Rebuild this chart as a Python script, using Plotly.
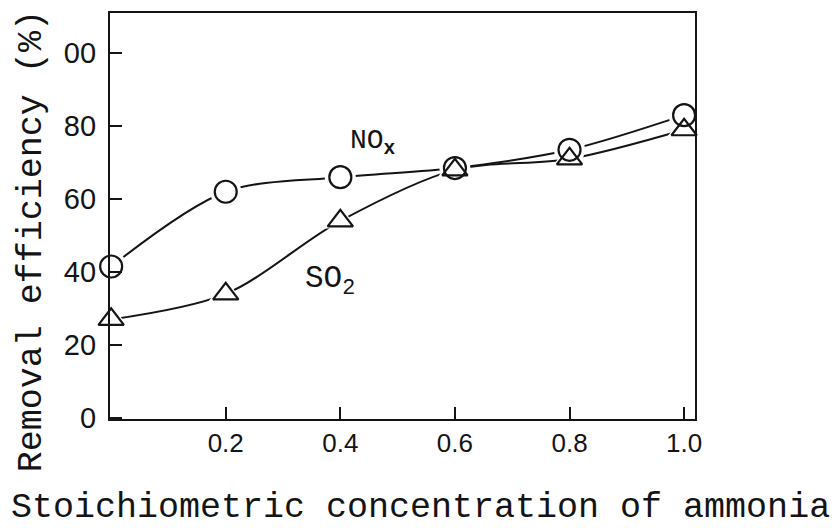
import plotly.graph_objects as go

# Stoichiometric concentration of ammonia (x) vs. removal efficiency (%)
conc = [0.0, 0.2, 0.4, 0.6, 0.8, 1.0]
nox_eff = [41.5, 62, 66, 68.5, 73.5, 83]
so2_eff = [27, 34, 54, 68, 71, 79]

y_tick_vals = [0, 20, 40, 60, 80, 100]
y_tick_text = ["0", "20", "40", "60", "80", "00"]
x_tick_vals = [0.2, 0.4, 0.6, 0.8, 1.0]
x_tick_text = ["0.2", "0.4", "0.6", "0.8", "1.0"]

INK = "#141414"
MONO = "Liberation Mono, Courier New, monospace"
SANS = "Liberation Sans, Arial, sans-serif"

fig = go.Figure()

# smooth curves
for ys in (nox_eff, so2_eff):
    fig.add_trace(go.Scatter(x=conc, y=ys, mode="lines", line=dict(color=INK, width=2, shape="spline", smoothing=0.9),
                             hoverinfo="skip", showlegend=False, cliponaxis=False))

# white halos leave a small gap between curve and symbol
fig.add_trace(go.Scatter(x=conc, y=nox_eff, mode="markers", marker=dict(symbol="circle", size=31, color="white", line=dict(width=0)),
                         hoverinfo="skip", showlegend=False, cliponaxis=False))
fig.add_trace(go.Scatter(x=conc, y=so2_eff, mode="markers", marker=dict(symbol="triangle-up", size=30, color="white", line=dict(width=0)),
                         hoverinfo="skip", showlegend=False, cliponaxis=False))

# open symbols
fig.add_trace(go.Scatter(x=conc, y=nox_eff, mode="markers", name="NOx",
                         marker=dict(symbol="circle-open", size=22, color=INK, line=dict(width=2.2, color=INK)),
                         showlegend=False, cliponaxis=False))
fig.add_trace(go.Scatter(x=conc, y=so2_eff, mode="markers", name="SO2",
                         marker=dict(symbol="triangle-up-open", size=22, color=INK, line=dict(width=2.2, color=INK)),
                         showlegend=False, cliponaxis=False))

fig.add_annotation(x=0.457, y=75.5, xref="x", yref="y", text="NO<sub><b>x</b></sub>", showarrow=False,
                   font=dict(family=MONO, size=28, color=INK), xanchor="center", yanchor="middle")
fig.add_annotation(x=0.382, y=37.5, xref="x", yref="y", text="SO<sub>2</sub>", showarrow=False,
                   font=dict(family=MONO, size=31, color=INK), xanchor="center", yanchor="middle")

# axis titles
fig.add_annotation(x=-0.134, y=0.437, xref="paper", yref="paper", text="Removal efficiency (%)",
                   textangle=-90, showarrow=False, xanchor="center", yanchor="middle",
                   font=dict(family=MONO, size=35, color=INK))
fig.add_annotation(x=0.53, y=-0.218, xref="paper", yref="paper", text="Stoichiometric concentration of ammonia",
                   showarrow=False, xanchor="center", yanchor="middle",
                   font=dict(family=MONO, size=35, color=INK))

fig.update_layout(
    width=838, height=528,
    margin=dict(l=110, r=143, t=11, b=109),
    paper_bgcolor="white", plot_bgcolor="white",
    showlegend=False,
    xaxis=dict(range=[-0.002, 1.019], tickvals=x_tick_vals, ticktext=x_tick_text,
               ticks="inside", ticklen=12, tickwidth=2, tickcolor=INK,
               showline=True, linecolor=INK, linewidth=2.2, mirror=True,
               showgrid=False, zeroline=False,
               tickfont=dict(family=SANS, size=26, color=INK)),
    yaxis=dict(range=[-0.3, 111], tickvals=y_tick_vals, ticktext=y_tick_text,
               ticks="inside", ticklen=12, tickwidth=2, tickcolor=INK,
               showline=True, linecolor=INK, linewidth=2.2, mirror=True,
               showgrid=False, zeroline=False, ticklabelstandoff=6,
               tickfont=dict(family=SANS, size=29, color=INK)),
)

fig.write_html("out.html")
